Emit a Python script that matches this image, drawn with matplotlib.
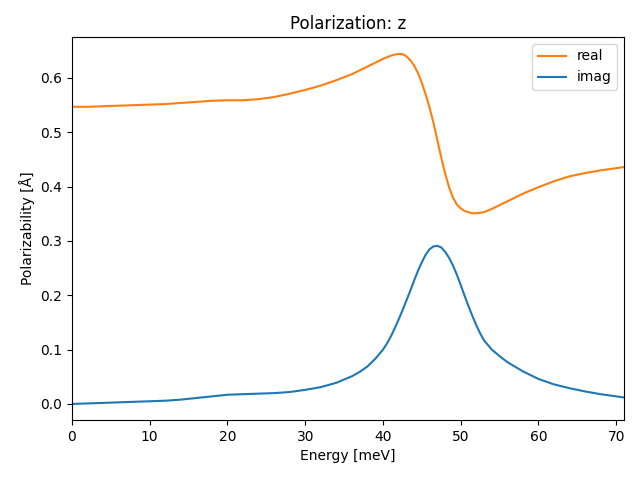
import matplotlib
matplotlib.use("Agg")
import matplotlib.pyplot as plt

# Values (denser sampling around the resonance)
energy = [0, 2, 4, 6, 8, 10, 12, 14, 16, 18, 20, 22, 24, 26, 28, 30, 32, 34,
          36, 37, 38, 39, 40, 40.5, 41, 41.5, 42, 42.5, 43, 43.5, 44, 44.5,
          45, 45.5, 46, 46.5, 47, 47.5, 48, 48.5, 49, 49.5, 50, 50.5, 51,
          51.5, 52, 52.5, 53, 54, 55, 56, 58, 60, 62, 64, 66, 68, 70, 71]

real = [0.547, 0.547, 0.548, 0.549, 0.550, 0.551, 0.552, 0.554, 0.556, 0.558,
        0.559, 0.559, 0.561, 0.565, 0.571, 0.578, 0.586, 0.596,
        0.607, 0.614, 0.621, 0.628, 0.635, 0.638, 0.641, 0.643, 0.644, 0.644,
        0.640, 0.633, 0.623, 0.609,
        0.591, 0.569, 0.545, 0.517, 0.485, 0.453, 0.424, 0.399, 0.380, 0.367,
        0.360, 0.355, 0.353,
        0.351, 0.351, 0.352, 0.353, 0.359, 0.366, 0.373, 0.387, 0.399, 0.410,
        0.419, 0.425, 0.430, 0.434, 0.436]

imag = [0.000, 0.001, 0.002, 0.003, 0.004, 0.005, 0.006, 0.008, 0.011, 0.014,
        0.017, 0.018, 0.019, 0.020, 0.022, 0.026, 0.031, 0.039,
        0.051, 0.059, 0.069, 0.083, 0.100, 0.111, 0.124, 0.139, 0.155, 0.172,
        0.190, 0.208, 0.227, 0.245,
        0.261, 0.275, 0.285, 0.290, 0.291, 0.288, 0.280, 0.269, 0.255, 0.238,
        0.219, 0.199, 0.180,
        0.162, 0.145, 0.130, 0.117, 0.100, 0.088, 0.077, 0.060, 0.046, 0.036,
        0.029, 0.023, 0.018, 0.014, 0.012]

fig, ax = plt.subplots(figsize=(6.4, 4.8), dpi=100)

ax.plot(energy, real, color="C1", label="real")
ax.plot(energy, imag, color="C0", label="imag")

ax.set_xlim(0, 71)
ax.set_ylim(-0.0295, 0.6755)
ax.set_title("Polarization: z")
ax.set_xlabel("Energy [meV]")
ax.set_ylabel("Polarizability [Å]")
ax.legend(loc="upper right")

fig.subplots_adjust(left=0.1125, right=0.975, top=0.923, bottom=0.125)
fig.savefig("out.png")
